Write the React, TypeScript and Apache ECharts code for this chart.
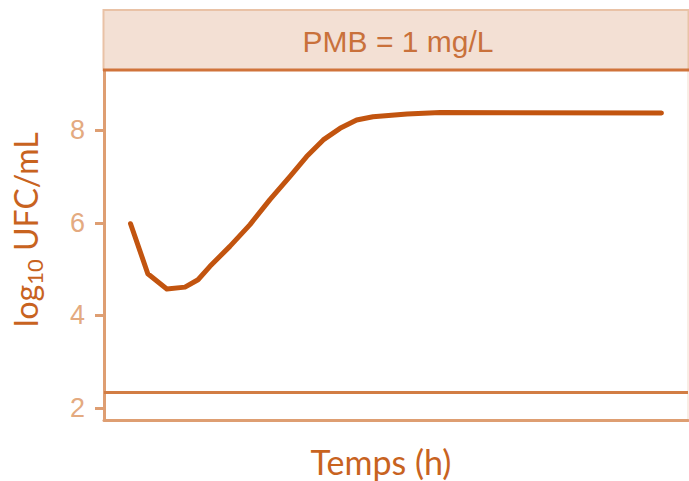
import React, { useEffect, useRef } from "react";
import * as echarts from "echarts";

// Bacterial count over time under polymyxin B exposure
const timeHours = [0, 0.78, 1.64, 2.46, 3.05, 3.59, 4.49, 5.4, 6.3, 7.21, 7.96, 8.71, 9.47, 10.22, 10.96, 12.5, 14.0, 24];
const log10Cfu = [5.98, 4.9, 4.57, 4.61, 4.77, 5.06, 5.49, 5.96, 6.5, 7.0, 7.43, 7.79, 8.04, 8.22, 8.29, 8.35, 8.38, 8.37];
const yTicks = [2, 4, 6, 8];
const detectionLimit = 2.34;
const panelLabel = "PMB = 1 mg/L";
const xTitle = "Temps (h)";
const yTitleParts = ["log", "10", " UFC/mL"];

const LINE = "#C2540F";
const AXIS = "#DE9E72";
const TICK_LABEL = "#E4AA80";
const TITLE = "#C8631F";

function measure(text: string, font: string): number {
  const ctx = document.createElement("canvas").getContext("2d");
  if (!ctx) return text.length * 10;
  ctx.font = font;
  return ctx.measureText(text).width;
}

export default function App() {
  const ref = useRef<HTMLDivElement>(null);

  useEffect(() => {
    if (!ref.current) return;
    const chart = echarts.init(ref.current, undefined, { renderer: "svg" });

    const mainFont = "32px Lato";
    const subFont = "22px Lato";
    const w0 = measure(yTitleParts[0], mainFont);
    const w1 = measure(yTitleParts[1], subFont);

    chart.setOption({
      animation: false,
      backgroundColor: "#ffffff",
      grid: {
        left: 104,
        right: 1,
        top: 70,
        bottom: 61,
        show: true,
        borderColor: "#F3DCCB",
        borderWidth: 1,
        backgroundColor: "#ffffff",
      },
      xAxis: {
        type: "value",
        min: -1.2,
        max: 25.2,
        axisLine: { show: true, onZero: false, lineStyle: { color: AXIS, width: 3 } },
        axisTick: { show: false },
        axisLabel: { show: false },
        splitLine: { show: false },
      },
      yAxis: {
        type: "value",
        min: 1.74,
        max: 9.3,
        axisLine: { show: true, onZero: false, lineStyle: { color: AXIS, width: 3 } },
        axisTick: {
          show: true,
          length: 9,
          customValues: yTicks,
          lineStyle: { color: AXIS, width: 3 },
        },
        axisLabel: {
          customValues: yTicks,
          margin: 19,
          color: TICK_LABEL,
          fontSize: 27,
          fontFamily: "Liberation Sans, Arial, sans-serif",
        },
        splitLine: { show: false },
      },
      series: [
        {
          type: "line",
          data: timeHours.map((t, i) => [t, log10Cfu[i]]),
          showSymbol: false,
          smooth: false,
          lineStyle: { color: LINE, width: 5, cap: "round", join: "round" },
          markLine: {
            silent: true,
            symbol: "none",
            label: { show: false },
            lineStyle: { color: "#D27D44", width: 3, type: "solid" },
            data: [{ yAxis: detectionLimit }],
          },
        },
      ],
      graphic: [
        {
          type: "rect",
          shape: { x: 103.5, y: 10, width: 585, height: 60 },
          style: { fill: "#F3E0D4", stroke: "#E9C2A6", lineWidth: 2 },
          z: 10,
        },
        {
          type: "line",
          shape: { x1: 103, y1: 70, x2: 689, y2: 70 },
          style: { stroke: "#D0733A", lineWidth: 3 },
          z: 11,
        },
        {
          type: "text",
          x: 398,
          y: 41,
          style: {
            text: panelLabel,
            fill: "#C9713B",
            font: "30px Liberation Sans, Arial, sans-serif",
            textAlign: "center",
            textVerticalAlign: "middle",
          },
          z: 12,
        },
        {
          type: "text",
          x: 381,
          y: 461,
          style: {
            text: xTitle,
            fill: TITLE,
            font: "34px Lato",
            textAlign: "center",
            textVerticalAlign: "middle",
          },
          z: 12,
        },
        {
          type: "group",
          x: 25,
          y: 327,
          rotation: Math.PI / 2,
          children: [
            {
              type: "text",
              x: 0,
              y: 0,
              style: { text: yTitleParts[0], fill: TITLE, font: mainFont, textAlign: "left", textVerticalAlign: "middle" },
            },
            {
              type: "text",
              x: w0,
              y: 9,
              style: { text: yTitleParts[1], fill: TITLE, font: subFont, textAlign: "left", textVerticalAlign: "middle" },
            },
            {
              type: "text",
              x: w0 + w1,
              y: 0,
              style: { text: yTitleParts[2], fill: TITLE, font: mainFont, textAlign: "left", textVerticalAlign: "middle" },
            },
          ],
        },
      ],
    });

    return () => chart.dispose();
  }, []);

  return <div ref={ref} style={{ width: 689, height: 481, position: "absolute", left: 0, top: 0 }} />;
}
